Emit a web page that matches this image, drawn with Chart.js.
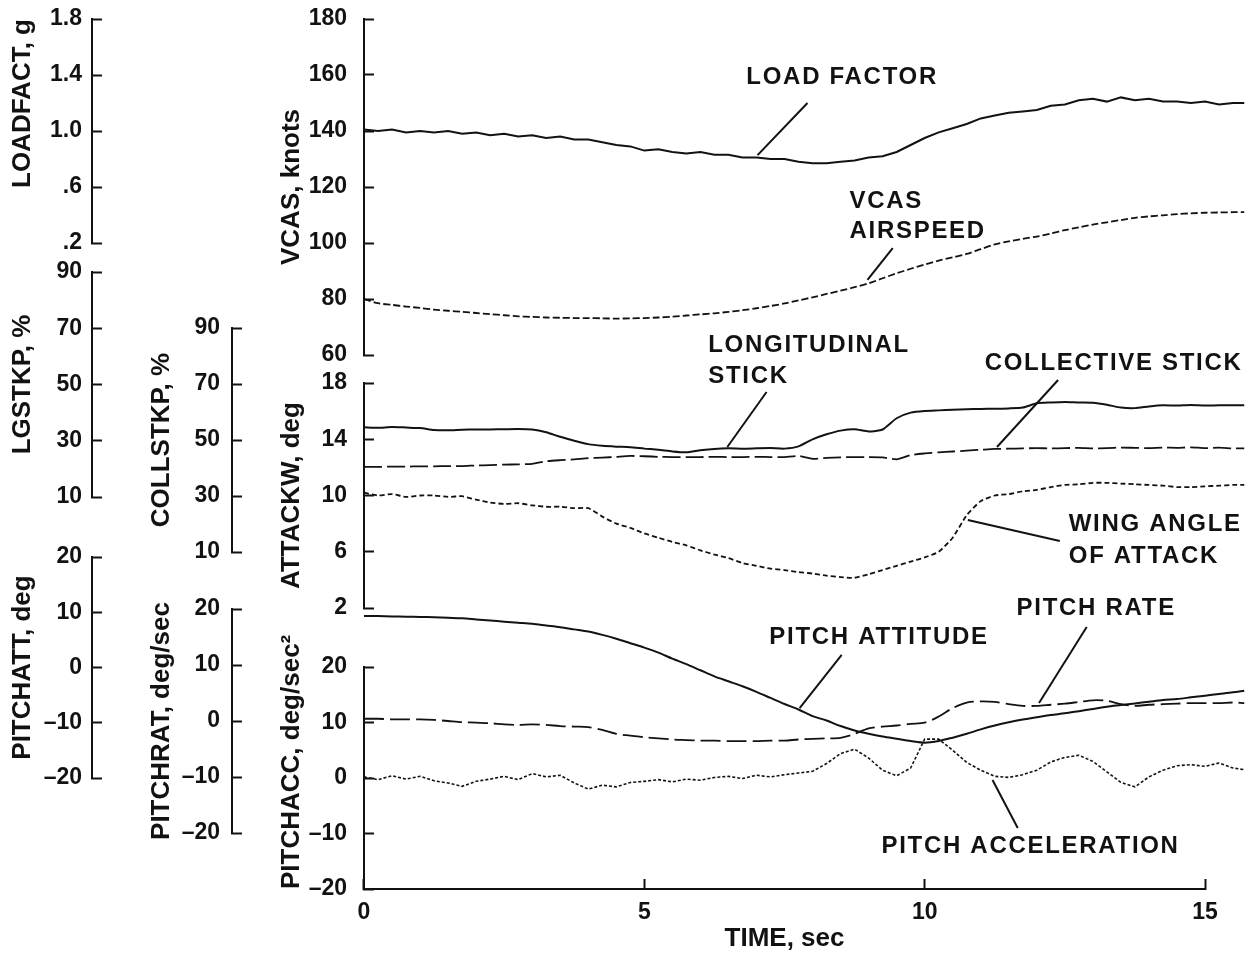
<!DOCTYPE html>
<html>
<head>
<meta charset="utf-8">
<title>Flight time history</title>
<script src="https://cdn.jsdelivr.net/npm/chart.js@4.4.1/dist/chart.umd.min.js"></script>
<style>
  html, body { margin: 0; padding: 0; background: #fff; }
</style>
</head>
<body>
<canvas id="timeHistory" width="1252" height="954"></canvas>
<script>
// time base, sec
const time = [0, 0.25, 0.5, 0.75, 1, 1.25, 1.5, 1.75, 2, 2.25, 2.5, 2.75, 3, 3.25, 3.5, 3.75,
    4, 4.25, 4.5, 4.75, 5, 5.25, 5.5, 5.75, 6, 6.25, 6.5, 6.75, 7, 7.25, 7.5, 7.75,
    8, 8.25, 8.5, 8.75, 9, 9.25, 9.5, 9.75, 10, 10.25, 10.5, 10.75, 11, 11.25, 11.5, 11.75,
    12, 12.25, 12.5, 12.75, 13, 13.25, 13.5, 13.75, 14, 14.25, 14.5, 14.75, 15, 15.25, 15.5, 15.7];

// LOADFACT, g
const loadFactor = [1.01, 1.00, 1.01, 0.99, 1.00, 0.99, 1.00, 0.98, 0.99, 0.97,
    0.98, 0.96, 0.97, 0.95, 0.96, 0.94, 0.94, 0.92, 0.90, 0.89,
    0.86, 0.87, 0.85, 0.84, 0.85, 0.83, 0.83, 0.81, 0.81, 0.80,
    0.80, 0.78, 0.77, 0.77, 0.78, 0.79, 0.81, 0.82, 0.85, 0.90,
    0.95, 0.99, 1.02, 1.05, 1.09, 1.11, 1.13, 1.14, 1.15, 1.18,
    1.19, 1.22, 1.23, 1.21, 1.24, 1.22, 1.23, 1.21, 1.21, 1.20,
    1.21, 1.19, 1.20, 1.20];

// VCAS, knots
const airspeed = [80.0, 78.5, 77.9, 77.3, 76.8, 76.2, 75.8, 75.4, 75.0, 74.6,
    74.2, 73.8, 73.6, 73.4, 73.3, 73.2, 73.2, 73.1, 73.0, 73.1,
    73.2, 73.4, 73.7, 74.1, 74.5, 74.9, 75.4, 76.0, 76.7, 77.5,
    78.4, 79.5, 80.6, 81.8, 83.0, 84.2, 85.6, 87.4, 89.2, 90.8,
    92.3, 93.7, 94.9, 96.1, 97.8, 99.5, 100.6, 101.5, 102.3, 103.4,
    104.6, 105.6, 106.6, 107.4, 108.2, 109.0, 109.5, 109.9, 110.3, 110.6,
    110.8, 110.9, 111.0, 111.0];

// LGSTKP, %
const longStick = [34.8, 34.6, 34.9, 34.7, 34.5, 33.8, 33.7, 33.9, 34.0, 34.0,
    34.1, 34.2, 34.0, 33.0, 31.4, 30.0, 28.8, 28.2, 27.9, 27.7,
    27.2, 26.8, 26.2, 25.9, 26.6, 27.1, 27.3, 27.2, 27.3, 27.4,
    27.2, 28.0, 30.5, 32.3, 33.6, 34.1, 33.3, 34.0, 38.0, 40.0,
    40.6, 40.8, 41.0, 41.2, 41.3, 41.4, 41.5, 41.8, 43.3, 43.6,
    43.8, 43.6, 43.5, 42.8, 41.8, 41.6, 42.2, 42.6, 42.5, 42.7,
    42.5, 42.6, 42.6, 42.6];

// COLLSTKP, %
const collStick = [40.4, 40.4, 40.5, 40.5, 40.6, 40.6, 40.7, 40.7, 40.9, 41.0,
    41.2, 41.3, 41.5, 42.4, 42.8, 43.1, 43.5, 43.7, 44.0, 44.3,
    44.2, 44.0, 43.9, 43.9, 43.9, 44.0, 43.9, 43.9, 44.0, 43.9,
    43.9, 44.3, 43.3, 43.6, 43.8, 43.9, 43.9, 43.8, 43.1, 44.6,
    45.2, 45.6, 45.9, 46.2, 46.5, 46.8, 46.9, 47.0, 47.1, 47.0,
    47.1, 47.2, 47.0, 47.1, 47.3, 47.2, 47.1, 47.3, 47.2, 47.4,
    47.1, 47.3, 47.0, 47.0];

// ATTACKW, deg
const wingAlpha = [10.2, 10.0, 10.1, 9.9, 10.0, 10.0, 9.9, 9.95, 9.7, 9.5,
    9.4, 9.45, 9.3, 9.2, 9.2, 9.1, 9.1, 8.5, 8.0, 7.7,
    7.3, 7.0, 6.7, 6.45, 6.1, 5.8, 5.55, 5.2, 5.0, 4.8,
    4.7, 4.55, 4.45, 4.3, 4.2, 4.15, 4.4, 4.7, 5.0, 5.3,
    5.6, 6.0, 7.0, 8.6, 9.6, 10.0, 10.1, 10.3, 10.4, 10.6,
    10.75, 10.8, 10.9, 10.9, 10.85, 10.8, 10.75, 10.7, 10.6, 10.6,
    10.65, 10.7, 10.75, 10.75];

// PITCHATT, deg
const pitchAtt = [9.3, 9.3, 9.25, 9.2, 9.15, 9.1, 9.0, 8.9, 8.7, 8.5,
    8.3, 8.1, 7.9, 7.6, 7.3, 6.9, 6.5, 5.9, 5.2, 4.4,
    3.6, 2.7, 1.6, 0.6, -0.5, -1.6, -2.5, -3.4, -4.4, -5.5,
    -6.6, -7.6, -8.8, -9.6, -10.6, -11.4, -12.0, -12.5, -12.9, -13.3,
    -13.6, -13.3, -12.7, -12.0, -11.2, -10.5, -9.9, -9.4, -9.0, -8.6,
    -8.3, -7.9, -7.5, -7.1, -6.8, -6.5, -6.2, -5.9, -5.7, -5.4,
    -5.1, -4.8, -4.5, -4.2];

// PITCHRAT, deg/sec
const pitchRate = [0.4, 0.4, 0.3, 0.3, 0.3, 0.2, 0.0, -0.2, -0.3, -0.4,
    -0.6, -0.7, -0.6, -0.7, -0.9, -1.0, -1.1, -1.6, -2.3, -2.6,
    -2.9, -3.1, -3.3, -3.4, -3.5, -3.5, -3.6, -3.6, -3.6, -3.5,
    -3.5, -3.3, -3.2, -3.1, -3.0, -2.3, -1.3, -1.0, -0.8, -0.5,
    -0.3, 0.8, 2.3, 3.3, 3.5, 3.4, 3.0, 2.7, 2.7, 2.9,
    3.1, 3.4, 3.7, 3.6, 3.0, 2.7, 2.9, 3.0, 3.1, 3.2,
    3.2, 3.2, 3.3, 3.2];

// PITCHACC, deg/sec^2
const pitchAcc = [0.2, -0.3, 0.4, -0.2, 0.3, -0.5, -0.9, -1.5, -0.6, -0.2,
    0.3, -0.3, 0.8, 0.2, 0.5, -0.9, -2.0, -1.3, -1.6, -0.8,
    -0.6, -0.3, -0.7, -0.2, -0.4, 0.1, 0.3, -0.1, 0.5, 0.2,
    0.6, 0.9, 1.2, 2.6, 4.4, 5.2, 3.6, 1.4, 0.4, 1.8,
    7.0, 7.0, 5.0, 2.8, 1.4, 0.3, 0.1, 0.6, 1.4, 2.9,
    3.7, 4.1, 3.0, 1.1, -0.8, -1.6, 0.2, 1.4, 2.2, 2.4,
    2.1, 2.7, 1.8, 1.5];

// trace labels: text anchor (time, value on axis) and leader line [axis, t1, v1, t2, v2]
const notes = [
    { lines: ["LOAD FACTOR"], axis: "vcas", t: 6.82, v: 159.1, gap: 0, lead: ["vcas", 7.91, 150.0, 7.02, 131.4] },
    { lines: ["VCAS", "AIRSPEED"], axis: "vcas", t: 8.66, v: 114.8, gap: 30, lead: ["vcas", 9.43, 98.2, 8.98, 86.8] },
    { lines: ["LONGITUDINAL", "STICK"], axis: "vcas", t: 6.14, v: 63.6, gap: 31, lead: ["attackw", 7.18, 17.36, 6.48, 13.45] },
    { lines: ["COLLECTIVE STICK"], axis: "attackw", t: 11.07, v: 19.42, gap: 0, lead: ["attackw", 12.38, 18.21, 11.29, 13.45] },
    { lines: ["WING ANGLE", "OF ATTACK"], axis: "attackw", t: 12.57, v: 7.97, gap: 32, lead: ["attackw", 12.41, 6.77, 10.77, 8.26] },
    { lines: ["PITCH RATE"], axis: "pitchacc", t: 11.64, v: 30.6, gap: 0, lead: ["pitchacc", 12.89, 27.2, 12.04, 13.5] },
    { lines: ["PITCH ATTITUDE"], axis: "pitchacc", t: 7.23, v: 25.4, gap: 0, lead: ["pitchacc", 8.52, 22.2, 7.77, 12.6] },
    { lines: ["PITCH ACCELERATION"], axis: "pitchacc", t: 9.23, v: -12.3, gap: 0, lead: ["pitchacc", 11.66, -9.0, 11.21, -0.36] }
];

const FONT = "'Liberation Sans', Arial, sans-serif";
const ink = "#121212";
const tickFont = { family: FONT, size: 23, weight: "bold" };
const titleFont = { family: FONT, size: 26, weight: "bold" };

const signed = v => v < 0 ? "\u2013" + Math.abs(v) : String(v);
const gees = v => v < 1 ? v.toFixed(1).slice(1) : v.toFixed(1);

// one left-hand axis; axes sharing a stack sit in the same column
function yAxis(o) {
    return {
        type: "linear",
        position: "left",
        stack: o.stack,
        stackWeight: o.span,
        weight: o.order,
        min: o.min,
        max: o.max,
        afterFit: s => {
            s.width = o.width;
            s.paddingTop = 0;
            s.paddingBottom = 0;
        },
        border: { display: true, color: ink, width: 2 },
        grid: { display: true, drawOnChartArea: false, drawTicks: true, tickLength: -10, tickWidth: 2, tickColor: ink },
        ticks: { stepSize: o.step, autoSkip: false, padding: o.gap, color: ink, font: tickFont, callback: o.fmt || signed },
        title: {
            display: true, text: o.title, color: ink, font: titleFont,
            align: o.align || "center", padding: { top: o.pad, bottom: 0 }
        }
    };
}

// empty slot in a column
function gap(stack, span, order, width) {
    return {
        type: "linear", position: "left", display: false,
        stack, stackWeight: span, weight: order,
        afterFit: s => { s.width = width; s.paddingTop = 0; s.paddingBottom = 0; }
    };
}

const scales = {
    x: {
        type: "linear",
        position: "bottom",
        min: 0,
        afterDataLimits: s => { s.max = 15; },
        afterFit: s => { s.height = 65; },
        border: { display: true, color: ink, width: 2 },
        grid: { display: true, drawOnChartArea: false, drawTicks: true, tickLength: -10, tickWidth: 2, tickColor: ink },
        ticks: { stepSize: 5, autoSkip: false, padding: 20, color: ink, font: tickFont, maxRotation: 0 },
        title: { display: true, text: "TIME, sec", color: ink, font: titleFont, padding: { top: 0, bottom: 0 } }
    },
    // outer column
    loadfact: yAxis({ stack: "c1", span: 224, order: 100, width: 92, min: 0.2, max: 1.8, step: 0.4, fmt: gees, title: "LOADFACT, g", pad: 7, gap: 20, align: "end" }),
    g1a: gap("c1", 29, 99, 92),
    lgstkp: yAxis({ stack: "c1", span: 225, order: 98, width: 92, min: 10, max: 90, step: 20, title: "LGSTKP, %", pad: 7, gap: 20 }),
    g1b: gap("c1", 60, 97, 92),
    pitchatt: yAxis({ stack: "c1", span: 221, order: 96, width: 92, min: -20, max: 20, step: 10, title: "PITCHATT, deg", pad: 7, gap: 20 }),
    g1c: gap("c1", 111, 95, 92),
    // middle column
    g2a: gap("c2", 309, 90, 140),
    collstkp: yAxis({ stack: "c2", span: 224, order: 89, width: 140, min: 10, max: 90, step: 20, title: "COLLSTKP, %", pad: 54, gap: 22 }),
    g2b: gap("c2", 57, 88, 140),
    pitchrat: yAxis({ stack: "c2", span: 224, order: 87, width: 140, min: -20, max: 20, step: 10, title: "PITCHRAT, deg/sec", pad: 54, gap: 22 }),
    g2c: gap("c2", 56, 86, 140),
    // column next to the traces
    vcas: yAxis({ stack: "c3", span: 336, order: 80, width: 132, min: 60, max: 180, step: 20, title: "VCAS, knots", pad: 44, gap: 27 }),
    g3a: gap("c3", 28, 79, 132),
    attackw: yAxis({ stack: "c3", span: 225, order: 78, width: 132, min: 2, max: 18, step: 4, title: "ATTACKW, deg", pad: 44, gap: 27 }),
    g3b: gap("c3", 59, 77, 132),
    pitchacc: yAxis({ stack: "c3", span: 222, order: 76, width: 132, min: -20, max: 20, step: 10, title: "PITCHACC, deg/sec\u00b2", pad: 44, gap: 27, align: "start" })
};

function trace(series, axis, dash, width, tension) {
    return {
        data: series.map((v, i) => ({ x: time[i], y: v })),
        yAxisID: axis,
        borderColor: ink,
        borderWidth: width,
        borderDash: dash,
        tension: tension,
        pointRadius: 0,
        fill: false,
        clip: false
    };
}

const notesPlugin = {
    id: "traceNotes",
    afterDatasetsDraw(chart) {
        const { ctx } = chart;
        const xs = chart.scales.x;
        ctx.save();
        ctx.fillStyle = ink;
        ctx.strokeStyle = ink;
        ctx.lineWidth = 2;
        ctx.font = `bold 24px ${FONT}`;
        ctx.letterSpacing = "1.7px";
        ctx.textAlign = "left";
        ctx.textBaseline = "middle";
        notes.forEach(n => {
            const ys = chart.scales[n.axis];
            const x = xs.getPixelForValue(n.t);
            const y = ys.getPixelForValue(n.v);
            n.lines.forEach((txt, i) => ctx.fillText(txt, x, y + i * n.gap));
            const ls = chart.scales[n.lead[0]];
            ctx.beginPath();
            ctx.moveTo(xs.getPixelForValue(n.lead[1]), ls.getPixelForValue(n.lead[2]));
            ctx.lineTo(xs.getPixelForValue(n.lead[3]), ls.getPixelForValue(n.lead[4]));
            ctx.stroke();
        });
        ctx.restore();
    }
};

new Chart(document.getElementById("timeHistory"), {
    type: "line",
    data: {
        datasets: [
            trace(loadFactor, "loadfact", [], 2, 0),
            trace(airspeed, "vcas", [7, 3], 1.8, 0.3),
            trace(longStick, "lgstkp", [], 2, 0.2),
            trace(collStick, "collstkp", [18, 5], 1.8, 0.2),
            trace(wingAlpha, "attackw", [5, 3], 1.8, 0.2),
            trace(pitchAtt, "pitchatt", [], 2, 0.3),
            trace(pitchRate, "pitchrat", [20, 6], 1.8, 0.3),
            trace(pitchAcc, "pitchacc", [3, 2], 1.6, 0)
        ]
    },
    options: {
        responsive: false,
        animation: false,
        devicePixelRatio: 1,
        layout: { padding: { top: 19, right: 47, bottom: 0, left: 0 } },
        plugins: {
            legend: { display: false },
            tooltip: { enabled: false }
        },
        scales: scales
    },
    plugins: [notesPlugin]
});
</script>
</body>
</html>
